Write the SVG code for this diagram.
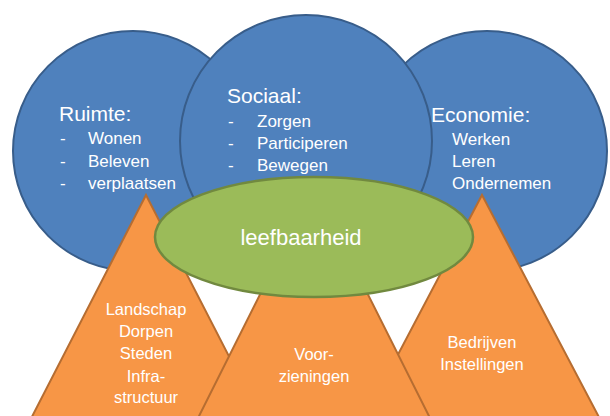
<svg xmlns="http://www.w3.org/2000/svg" width="610" height="416" viewBox="0 0 610 416">
<style>
.circle{fill:#4F81BD;stroke:#385D8A;stroke-width:2}
.tri{fill:#F79646;stroke:#B66D31;stroke-width:2;stroke-linejoin:miter}
.ell{fill:#9BBB59;stroke:#71893F;stroke-width:2.5}
text{font-family:"Liberation Sans",Arial,sans-serif;fill:#FFFFFF}
.h{font-size:21px}
.b{font-size:17px}
.t{font-size:16.5px;text-anchor:middle}
.c{font-size:22px;text-anchor:middle}
</style>
<rect width="610" height="416" fill="#FFFFFF"/>
<g id="ruimte">
<circle class="circle" cx="133" cy="151" r="120"/>
<text class="h" x="59" y="121">Ruimte:</text>
<text class="b" x="60" y="144">-</text><text class="b" x="88" y="144">Wonen</text>
<text class="b" x="60" y="167">-</text><text class="b" x="88" y="167">Beleven</text>
<text class="b" x="60" y="189">-</text><text class="b" x="88" y="189">verplaatsen</text>
</g>
<g id="economie">
<circle class="circle" cx="487" cy="151" r="120"/>
<text class="h" x="431" y="122">Economie:</text>
<text class="b" x="452" y="145">Werken</text>
<text class="b" x="452" y="167">Leren</text>
<text class="b" x="452" y="189">Ondernemen</text>
</g>
<g id="sociaal">
<circle class="circle" cx="306" cy="141" r="126"/>
<text class="h" x="227" y="103">Sociaal:</text>
<text class="b" x="228" y="127">-</text><text class="b" x="257" y="127">Zorgen</text>
<text class="b" x="228" y="149">-</text><text class="b" x="257" y="149">Participeren</text>
<text class="b" x="228" y="171">-</text><text class="b" x="257" y="171">Bewegen</text>
</g>
<g id="landschap">
<polygon class="tri" points="146,195 272,440 20,440"/>
<text class="t" x="146" y="315">Landschap</text>
<text class="t" x="146" y="337">Dorpen</text>
<text class="t" x="146" y="359">Steden</text>
<text class="t" x="146" y="382">Infra-</text>
<text class="t" x="146" y="403">structuur</text>
</g>
<g id="bedrijven">
<polygon class="tri" points="482,195 611,440 353,440"/>
<text class="t" x="482" y="348">Bedrijven</text>
<text class="t" x="482" y="370">Instellingen</text>
</g>
<g id="voorzieningen">
<polygon class="tri" points="314,187 441,440 187,440"/>
<text class="t" x="314" y="360">Voor-</text>
<text class="t" x="314" y="382">zieningen</text>
</g>
<g id="leefbaarheid">
<ellipse class="ell" cx="314" cy="237" rx="159" ry="60"/>
<text class="c" x="301" y="245">leefbaarheid</text>
</g>
</svg>
